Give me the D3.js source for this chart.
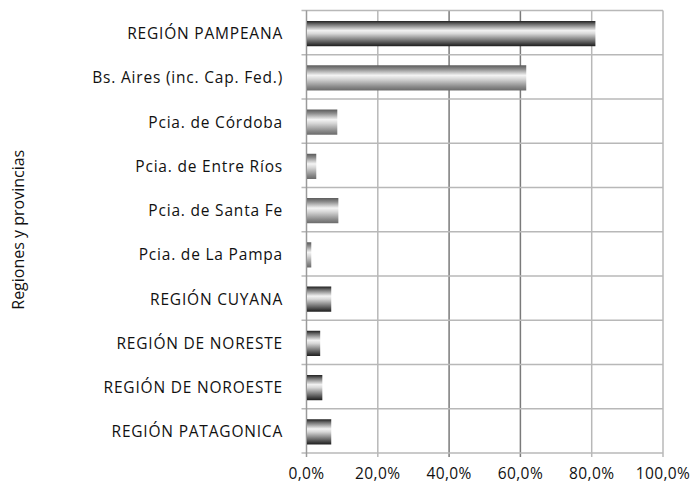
<!DOCTYPE html>
<html>
<head>
<meta charset="utf-8">
<script src="https://cdn.jsdelivr.net/npm/d3@7"></script>
<style>
  body { margin: 0; background: #fff; }
  svg text { font-family: "Open Sans", sans-serif; fill: #111; }
</style>
</head>
<body>
<div id="chart"></div>
<script>
// categories, top to bottom
var categories = ["REGIÓN PAMPEANA", "Bs. Aires (inc. Cap. Fed.)", "Pcia. de Córdoba",
  "Pcia. de Entre Ríos", "Pcia. de Santa Fe", "Pcia. de La Pampa", "REGIÓN CUYANA",
  "REGIÓN DE NORESTE", "REGIÓN DE NOROESTE", "REGIÓN PATAGONICA"];
var values = [80.9, 61.5, 8.5, 2.6, 8.8, 1.2, 6.8, 3.7, 4.3, 6.8];
// region rows get the dark bar, province rows the light one
var isRegion = [true, false, false, false, false, false, true, true, true, true];
var xTicks = [0, 20, 40, 60, 80, 100];

var W = 700, H = 489;
var margin = {top: 10.5, right: 37, bottom: 36, left: 306.5};
var svg = d3.select("#chart").append("svg").attr("width", W).attr("height", H);

var defs = svg.append("defs");
function grad(id, stops) {
  var g = defs.append("linearGradient").attr("id", id)
    .attr("x1", 0).attr("y1", 0).attr("x2", 0).attr("y2", 1);
  stops.forEach(function(s) {
    g.append("stop").attr("offset", s[0]).attr("stop-color", s[1]);
  });
}
grad("dark", [[0, "#1e1e1e"], [0.12, "#6a6a6a"], [0.38, "#f2f2f2"], [0.5, "#d8d8d8"], [0.82, "#606060"], [1, "#1c1c1c"]]);
grad("light", [[0, "#5a5a5a"], [0.15, "#8c8c8c"], [0.4, "#f4f4f4"], [0.55, "#d6d6d6"], [0.85, "#8a8a8a"], [1, "#6a6a6a"]]);

var x = d3.scaleLinear().domain([0, 100]).range([margin.left, W - margin.right]);
var y = d3.scaleBand().domain(categories).range([margin.top, H - margin.bottom]).paddingInner(0.43).paddingOuter(0.215);
var plotBottom = H - margin.bottom;

// vertical gridlines
svg.append("g").selectAll("line").data(xTicks.slice(1)).enter().append("line")
  .attr("x1", function(d) { return x(d); }).attr("x2", function(d) { return x(d); })
  .attr("y1", margin.top).attr("y2", plotBottom + 4)
  .attr("stroke", function(d) { return (d == 40 || d == 60) ? "#7a7a7a" : "#b8b8b8"; })
  .attr("stroke-width", 1.5);

// horizontal lines at category boundaries
var bounds = d3.range(categories.length + 1).map(function(i) { return margin.top + i * (plotBottom - margin.top) / categories.length; });
svg.append("g").selectAll("line").data(bounds).enter().append("line")
  .attr("x1", margin.left - 5).attr("x2", W - margin.right)
  .attr("y1", function(d) { return d; }).attr("y2", function(d) { return d; })
  .attr("stroke", "#b8b8b8").attr("stroke-width", 1.5);

// y axis line
svg.append("line").attr("x1", margin.left).attr("x2", margin.left)
  .attr("y1", margin.top).attr("y2", plotBottom + 4)
  .attr("stroke", "#9a9a9a").attr("stroke-width", 1.5);

// bars
svg.append("g").selectAll("rect").data(categories).enter().append("rect")
  .attr("x", x(0) + 0.5)
  .attr("y", function(d) { return y(d) + 1; })
  .attr("height", y.bandwidth())
  .attr("width", function(d, i) { return x(values[i]) - x(0); })
  .attr("fill", function(d, i) { return isRegion[i] ? "url(#dark)" : "url(#light)"; });

// category labels
svg.append("g").selectAll("text").data(categories).enter().append("text")
  .attr("x", 283)
  .attr("y", function(d) { return y(d) + y.bandwidth() / 2 + 1; })
  .attr("dy", "0.35em")
  .attr("text-anchor", "end")
  .style("font-size", "15.5px")
  .style("letter-spacing", "0.8px")
  .text(function(d) { return d; });

// x tick labels
svg.append("g").selectAll("text").data(xTicks).enter().append("text")
  .attr("x", function(d) { return x(d); })
  .attr("y", 479)
  .attr("text-anchor", "middle")
  .style("font-size", "15.5px")
  .style("letter-spacing", "0.4px")
  .text(function(d) { return d3.format(".1f")(d).replace(".", ",") + "%"; });

// y axis title
svg.append("text")
  .attr("transform", "translate(24," + ((margin.top + plotBottom) / 2 - 2) + ") rotate(-90)")
  .attr("text-anchor", "middle")
  .style("font-size", "16px")
  .text("Regiones y provincias");
</script>
</body>
</html>
